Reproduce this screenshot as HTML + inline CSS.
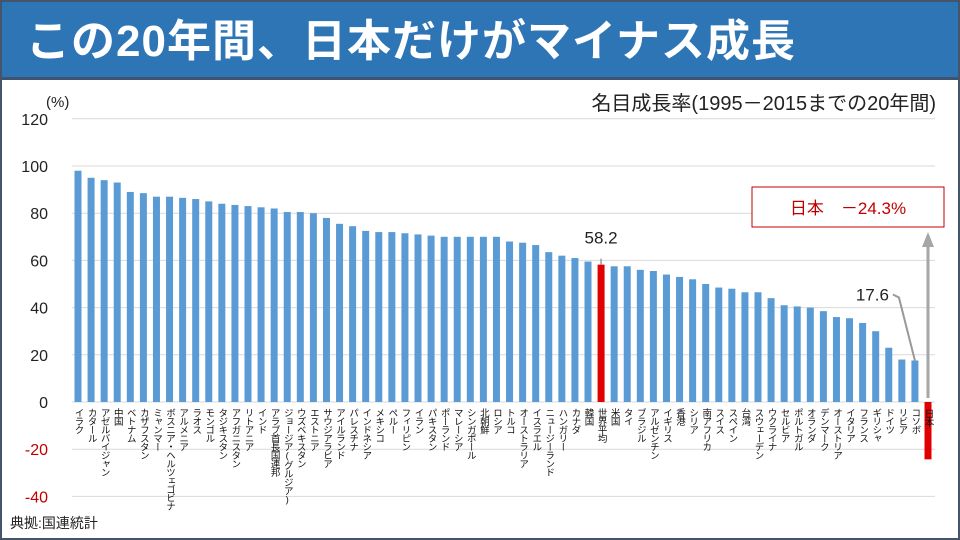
<!DOCTYPE html>
<html><head><meta charset="utf-8">
<style>
html,body{margin:0;padding:0;background:#fff;}
#wrap{position:relative;width:960px;height:540px;overflow:hidden;font-family:"Liberation Sans","Noto Sans CJK JP",sans-serif;background:#fff;}
#frame{position:absolute;left:0;top:0;width:956px;height:536px;border:2px solid #44546a;}
#title{position:absolute;left:2px;top:2px;width:956px;height:78px;background:#2e75b6;border-bottom:3px solid #3e5470;color:#fff;font-weight:bold;font-size:44px;line-height:80px;padding-left:24px;box-sizing:border-box;font-family:"Liberation Sans","Noto Sans CJK JP",sans-serif;letter-spacing:1px;}
svg{position:absolute;left:0;top:0;}
</style></head>
<body>
<div id="wrap">
<div id="frame"></div>
<div id="title">この20年間、日本だけがマイナス成長</div>
<svg id="chart" width="960" height="540"></svg>
</div>
<script>
const categories=["イラク","カタール","アゼルバイジャン","中国","ベトナム","カザフスタン","ミャンマー","ボスニア・ヘルツェゴビナ","アルメニア","ラオス","モンゴル","タジキスタン","アフガニスタン","リトアニア","インド","アラブ首長国連邦","ジョージア(グルジア)","ウズベキスタン","エストニア","サウジアラビア","アイルランド","パレスチナ","インドネシア","メキシコ","ペルー","フィリピン","イラン","パキスタン","ポーランド","マレーシア","シンガポール","北朝鮮","ロシア","トルコ","オーストラリア","イスラエル","ニュージーランド","ハンガリー","カナダ","韓国","世界平均","米国","タイ","ブラジル","アルゼンチン","イギリス","香港","シリア","南アフリカ","スイス","スペイン","台湾","スウェーデン","ウクライナ","セルビア","ポルトガル","オランダ","デンマーク","オーストリア","イタリア","フランス","ギリシャ","ドイツ","リビア","コソボ","日本"];
const values=[98,95,94,93,89,88.5,87,87,86.5,86,85,84,83.5,83,82.5,82,80.5,80.5,80,78,75.5,74.5,72.5,72,72,71.5,71,70.5,70,70,70,70,70,68,67.5,66.5,63.5,62,61,59.5,58.2,57.5,57.5,56,55.5,54,53,52,50,48.5,48,46.5,46.5,44,41,40.5,40,38.5,36,35.5,33.5,30,23,18,17.6,-24.3];
const highlights=["世界平均","日本"];
const yTicks=[120,100,80,60,40,20,0,-20,-40];

const svg=document.getElementById('chart');
const NS='http://www.w3.org/2000/svg';
const y0=402, pxPerUnit=2.36;
const y=v=>y0-v*pxPerUnit;
const x0=78, x1=928;
const x=i=>x0+i*(x1-x0)/(categories.length-1);
function mk(tag,attrs,parent){const e=document.createElementNS(NS,tag);for(const k in attrs)e.setAttribute(k,attrs[k]);(parent||svg).appendChild(e);return e;}

yTicks.forEach(t=>{
  const g=mk('line',{x1:72,x2:935,y1:y(t),y2:y(t),stroke:'#d9d9d9','stroke-width':1});
  
  
  const tx=mk('text',{x:48,y:y(t)+6,'text-anchor':'end','font-size':16,fill:t<0?'#c00000':'#222'});
  tx.textContent=t;
  
  
});
const unit=mk('text',{x:46,y:107,'font-size':15,fill:'#222'});unit.textContent='(%)';



categories.forEach((c,i)=>{
  const v=values[i];
  const hi=highlights.includes(c);
  const top=v>=0?y(v):y0, h=Math.abs(v)*pxPerUnit;
  const r=mk('rect',{x:x(i)-3.5,y:top,width:7,height:h,fill:hi?'#e00000':'#5b9bd5'});
  
  
  const t=mk('text',{x:x(i),y:v<0?y0+7:y0+6,'font-size':9.5,fill:'#111',style:'writing-mode:vertical-rl;text-orientation:upright;letter-spacing:-1px'});
  t.textContent=c;
  
  
});

const wi=categories.indexOf('世界平均');
mk('line',{x1:x(wi),x2:x(wi),y1:y(values[wi]),y2:y(values[wi])-6,stroke:'#999','stroke-width':1.5});
const wa=mk('text',{x:x(wi),y:y(values[wi])-21,'text-anchor':'middle','font-size':17,fill:'#222'});wa.textContent=values[wi];


const ki=categories.indexOf('コソボ');
const ky=y(values[ki]);
mk('polyline',{points:`${x(ki)},${ky} ${x(ki)-16},${ky-63} ${x(ki)-22},${ky-66}`,fill:'none',stroke:'#999','stroke-width':2});
const ka=mk('text',{x:x(ki)-26,y:ky-60,'text-anchor':'end','font-size':17,fill:'#222'});ka.textContent=values[ki];


const ji=categories.indexOf('日本');
mk('line',{x1:x(ji),x2:x(ji),y1:y0-4,y2:246,stroke:'#a6a6a6','stroke-width':3});
mk('polygon',{points:`${x(ji)-6},247 ${x(ji)+6},247 ${x(ji)},232`,fill:'#a6a6a6'});
const box=mk('rect',{x:752,y:187,width:192,height:40,fill:'#fff',stroke:'#c00000','stroke-width':1});


const jt=mk('text',{x:848,y:214,'text-anchor':'middle','font-size':17,fill:'#c00000'});jt.textContent='日本　－'+Math.abs(values[ji])+'%';



const sub=mk('text',{x:936,y:110,'text-anchor':'end','font-size':20,fill:'#222'});sub.textContent='名目成長率(1995－2015までの20年間)';


const src=mk('text',{x:10,y:528,'font-size':14,fill:'#222'});src.textContent='典拠:国連統計';


</script>
</body></html>
